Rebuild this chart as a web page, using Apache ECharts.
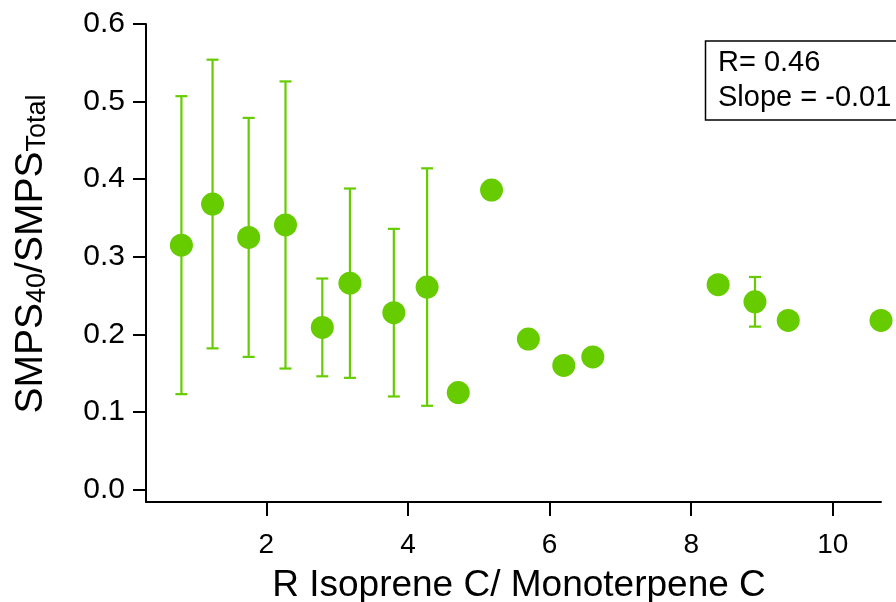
<!DOCTYPE html>
<html>
<head>
<meta charset="utf-8">
<script src="https://cdn.jsdelivr.net/npm/echarts@6/dist/echarts.min.js"></script>
<style>
  html, body { margin: 0; padding: 0; background: #fff; }
  #chart { width: 896px; height: 602px; }
</style>
</head>
<body>
<div id="chart"></div>
<script>
// Isoprene/monoterpene carbon ratio vs. SMPS40/SMPSTotal
const ratioX = [0.80, 1.24, 1.75, 2.27, 2.79, 3.18, 3.80, 4.27, 4.71, 5.18, 5.70, 6.20, 6.61, 8.38, 8.90, 9.37, 10.68];
const smpsFrac = [0.315, 0.368, 0.325, 0.341, 0.209, 0.266, 0.228, 0.261, 0.125, 0.386, 0.194, 0.160, 0.171, 0.264, 0.242, 0.218, 0.218];
// symmetric error (half-width); null = no error bar
const smpsErr = [0.192, 0.186, 0.154, 0.185, 0.063, 0.122, 0.108, 0.153, null, null, null, null, null, null, 0.032, null, null];
const xTicks = [2, 4, 6, 8, 10];
const yTicks = [0.0, 0.1, 0.2, 0.3, 0.4, 0.5, 0.6];
const statLines = ['R= 0.46', 'Slope = -0.01'];

const FONT = '"Liberation Sans", Arial, Helvetica, sans-serif';
const GREEN = '#66cc00';

const chart = echarts.init(document.getElementById('chart'), null, { renderer: 'canvas' });

const pts = ratioX.map((x, i) => [x, smpsFrac[i]]);
const errData = ratioX.map((x, i) => [x, smpsFrac[i], smpsErr[i] == null ? 0 : smpsErr[i], smpsErr[i] == null ? 0 : 1]);

chart.setOption({
  animation: false,
  backgroundColor: '#fff',
  grid: { left: 146, right: 15, top: 24, bottom: 100, containLabel: false },
  xAxis: {
    type: 'value',
    min: 0.3,
    max: 10.68,
    splitLine: { show: false },
    axisLine: { show: true, onZero: false, lineStyle: { color: '#000', width: 2 } },
    axisTick: { show: true, inside: false, length: 14, customValues: xTicks, lineStyle: { color: '#000', width: 2 } },
    axisLabel: { customValues: xTicks, fontSize: 28, fontFamily: FONT, color: '#000', margin: 29 }
  },
  yAxis: {
    type: 'value',
    min: -0.016,
    max: 0.6,
    splitLine: { show: false },
    axisLine: { show: true, onZero: false, lineStyle: { color: '#000', width: 2 } },
    axisTick: { show: true, inside: false, length: 13, customValues: yTicks, lineStyle: { color: '#000', width: 2 } },
    axisLabel: { customValues: yTicks, fontSize: 30, fontFamily: FONT, color: '#000', margin: 21,
      formatter: v => v.toFixed(1) }
  },
  series: [
    {
      type: 'custom',
      z: 2,
      clip: false,
      data: errData,
      renderItem: function (params, api) {
        if (api.value(3) === 0) return null;
        const x = api.value(0), y = api.value(1), e = api.value(2);
        const top = api.coord([x, y + e]);
        const bot = api.coord([x, y - e]);
        const cap = 6;
        const st = { stroke: GREEN, lineWidth: 2.2 };
        return {
          type: 'group',
          children: [
            { type: 'line', shape: { x1: top[0], y1: top[1], x2: bot[0], y2: bot[1] }, style: st },
            { type: 'line', shape: { x1: top[0] - cap, y1: top[1], x2: top[0] + cap, y2: top[1] }, style: st },
            { type: 'line', shape: { x1: bot[0] - cap, y1: bot[1], x2: bot[0] + cap, y2: bot[1] }, style: st }
          ]
        };
      }
    },
    {
      type: 'scatter',
      z: 3,
      clip: false,
      symbol: 'circle',
      symbolSize: 23,
      itemStyle: { color: GREEN, opacity: 1 },
      data: pts
    }
  ],
  graphic: [
    {
      type: 'text',
      x: 519, y: 586,
      style: { text: 'R Isoprene C/ Monoterpene C', font: '37px ' + FONT, fill: '#000', align: 'center', verticalAlign: 'middle' }
    },
    {
      type: 'text',
      x: 30, y: 254,
      rotation: Math.PI / 2,
      style: {
        text: '{m|SMPS}{s|40}{m|/SMPS}{s|Total}',
        align: 'center', verticalAlign: 'middle',
        rich: {
          m: { fontSize: 39, fontFamily: FONT, fill: '#000', lineHeight: 42, verticalAlign: 'bottom' },
          s: { fontSize: 27, fontFamily: FONT, fill: '#000', lineHeight: 19, verticalAlign: 'bottom' }
        }
      }
    },
    {
      type: 'rect',
      shape: { x: 705.5, y: 41, width: 200, height: 79 },
      style: { fill: '#fff', stroke: '#000', lineWidth: 1.5 },
      z: 10
    },
    {
      type: 'text',
      x: 718, y: 63,
      z: 11,
      style: { text: statLines[0], font: '29px ' + FONT, fill: '#000', align: 'left', verticalAlign: 'middle' }
    },
    {
      type: 'text',
      x: 718, y: 98,
      z: 11,
      style: { text: statLines[1], font: '29px ' + FONT, fill: '#000', align: 'left', verticalAlign: 'middle' }
    }
  ]
});
</script>
</body>
</html>
